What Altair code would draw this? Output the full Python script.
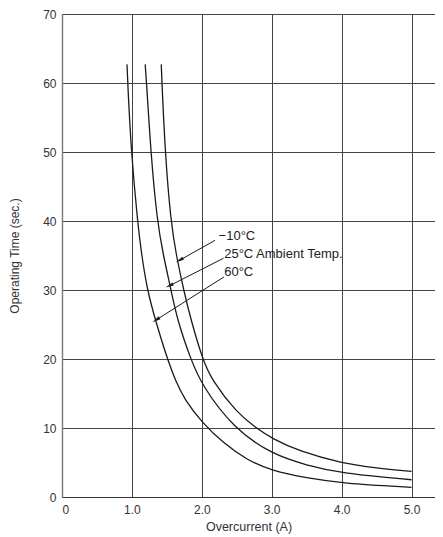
import altair as alt
import pandas as pd

# Curve data
x_m10 = [1.42, 1.43, 1.475, 1.555, 1.635, 1.74, 1.845, 2.01, 2.14, 2.5, 2.78, 3.0, 3.4, 4.0, 4.5, 5.0]
y_m10 = [62.7, 60, 50, 40, 35, 30, 25.65, 20, 16.96, 12.2, 10, 8.5, 6.6, 4.9, 4.2, 3.7]
x_25 = [1.19, 1.21, 1.27, 1.36, 1.45, 1.56, 1.65, 1.84, 2.0, 2.45, 3.0, 3.5, 4.0, 5.0]
y_25 = [62.7, 60, 50, 40, 35, 30, 25.65, 20, 16.2, 10, 6.2, 4.6, 3.4, 2.5]
x_60 = [0.93, 0.94, 0.99, 1.08, 1.14, 1.22, 1.335, 1.507, 1.63, 1.75, 2.0, 2.3, 2.64, 3.0, 3.5, 4.0, 5.0]
y_60 = [62.7, 60, 50, 40, 35, 30, 25.65, 20, 16.7, 14.2, 10.8, 7.9, 5.4, 3.8, 2.75, 2.0, 1.4]

labels = ["\u221210\u00b0C", "25\u00b0C Ambient Temp.", "60\u00b0C"]
label_x = [2.24, 2.32, 2.32]
label_y = [37.8, 35.2, 32.6]
arrow_x1 = [2.19, 2.31, 2.318]
arrow_y1 = [37.2, 34.6, 31.9]
arrow_x2 = [1.68, 1.535, 1.345]
arrow_y2 = [34.3, 30.6, 25.65]
arrow_angle = [241.6, 245.2, 237.1]

x_ticks = [0, 1, 2, 3, 4, 5]
y_ticks = [0, 10, 20, 30, 40, 50, 60, 70]

rows = []
for name, xs_, ys_ in [("m10", x_m10, y_m10), ("25", x_25, y_25), ("60", x_60, y_60)]:
    for i, (a, b) in enumerate(zip(xs_, ys_)):
        rows.append({"series": name, "x": a, "y": b, "order": i})
curves = pd.DataFrame(rows)

ann = pd.DataFrame({
    "label": labels, "lx": label_x, "ly": label_y,
    "x1": arrow_x1, "y1": arrow_y1, "x2": arrow_x2, "y2": arrow_y2,
    "angle": arrow_angle,
})

FONT = "Liberation Sans"
xs = alt.Scale(domain=[0, 5.336], nice=False, zero=False)
ys = alt.Scale(domain=[0, 70], nice=False)

base_x_axis = alt.Axis(
    values=x_ticks, grid=True, gridColor="#444", gridWidth=1, ticks=False,
    domainColor="#333", domainWidth=1.2,
    labelExpr="datum.value == 0 ? '0' : format(datum.value, '.1f')",
    labelFont=FONT, labelFontSize=12, labelColor="#333", labelPadding=7,
    title="Overcurrent (A)", titleFont=FONT, titleFontSize=12.5,
    titleFontWeight="normal", titleColor="#333", titlePadding=5,
)
base_y_axis = alt.Axis(
    values=y_ticks, grid=True, gridColor="#444", gridWidth=1, ticks=False,
    domainColor="#777", domainWidth=1.4,
    labelFont=FONT, labelFontSize=12, labelColor="#333", labelPadding=6,
    title="Operating Time (sec.)", titleFont=FONT, titleFontSize=12,
    titleFontWeight="normal", titleColor="#333", titlePadding=21,
)

lines = alt.Chart(curves).mark_line(
    color="#1a1a1a", strokeWidth=1.3, interpolate="basis"
).encode(
    x=alt.X("x:Q", scale=xs, axis=base_x_axis),
    y=alt.Y("y:Q", scale=ys, axis=base_y_axis),
    detail="series:N",
    order="order:Q",
)

arrows = alt.Chart(ann).mark_rule(color="#1a1a1a", strokeWidth=1).encode(
    x=alt.X("x1:Q", scale=xs), y=alt.Y("y1:Q", scale=ys),
    x2="x2:Q", y2="y2:Q",
)

heads = alt.Chart(ann).mark_point(
    shape="M0,-1L0.4,1L-0.4,1Z", filled=True, color="#1a1a1a",
    size=70, opacity=1,
).encode(
    x=alt.X("x2:Q", scale=xs), y=alt.Y("y2:Q", scale=ys),
    angle=alt.Angle("angle:Q", scale=None),
)

texts = alt.Chart(ann).mark_text(
    align="left", baseline="middle", font=FONT, fontSize=13, color="#222",
).encode(
    x=alt.X("lx:Q", scale=xs), y=alt.Y("ly:Q", scale=ys), text="label:N",
)

chart = alt.layer(lines, arrows, heads, texts).properties(
    width=373, height=483,
    autosize=alt.AutoSizeParams(type="none"),
    padding={"left": 54, "top": 6, "right": 0, "bottom": 40},
).configure_view(stroke=None)

chart.save("out.html", embed_options={"renderer": "svg", "actions": False})
